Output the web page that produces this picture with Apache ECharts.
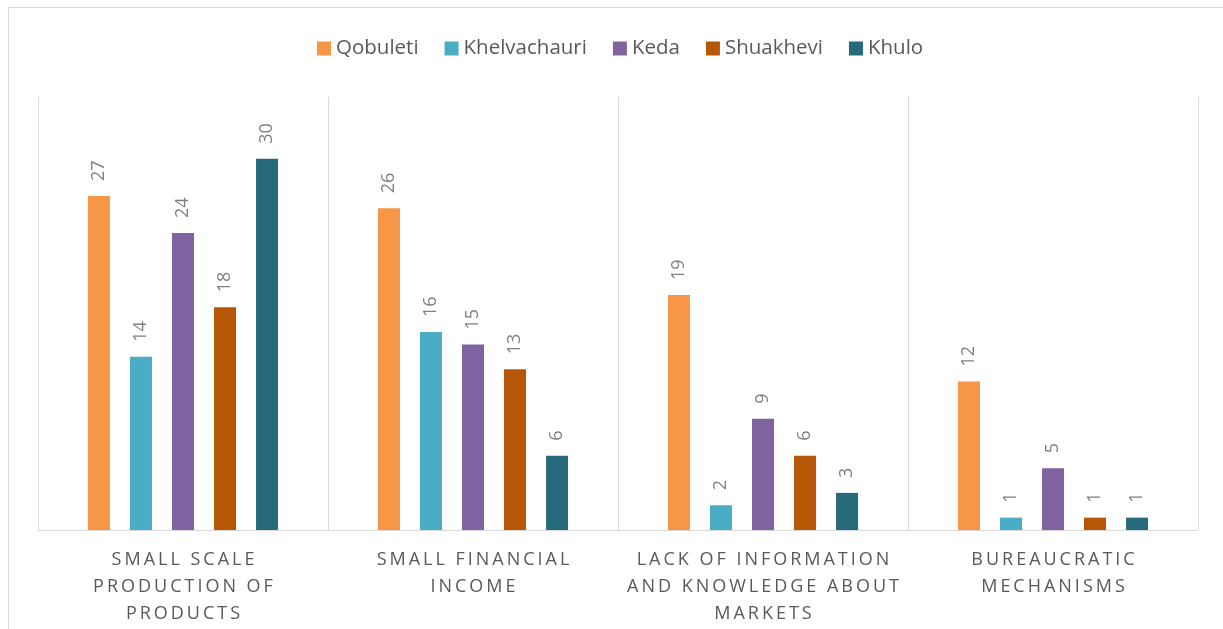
<!DOCTYPE html>
<html><head><meta charset="utf-8">
<script src="https://cdn.jsdelivr.net/npm/echarts@6/dist/echarts.min.js"></script>
<style>html,body{margin:0;padding:0;background:#fff}#c{width:1223px;height:629px}</style>
</head><body><div id="c"></div>
<script>
const categories = [
  "SMALL SCALE\nPRODUCTION OF\nPRODUCTS",
  "SMALL FINANCIAL\nINCOME",
  "LACK OF INFORMATION\nAND KNOWLEDGE ABOUT\nMARKETS",
  "BUREAUCRATIC\nMECHANISMS"
];
const seriesNames = ["Qobuleti", "Khelvachauri", "Keda", "Shuakhevi", "Khulo"];
const qobuleti = [27, 26, 19, 12];
const khelvachauri = [14, 16, 2, 1];
const keda = [24, 15, 9, 5];
const shuakhevi = [18, 13, 6, 1];
const khulo = [30, 6, 3, 1];
const colors = ["#F79646", "#4BACC6", "#8064A2", "#B65708", "#276A7C"];

const values = [qobuleti, khelvachauri, keda, shuakhevi, khulo];
const spaced = s => s.split("\n").map(l => l.split("").join("\u2009")).join("\n");

const chart = echarts.init(document.getElementById("c"), null, {renderer: "canvas"});
chart.setOption({
  animation: false,
  textStyle: {fontFamily: "Open Sans"},
  graphic: [{
    type: "rect", shape: {x: 8.5, y: 7.5, width: 1300, height: 700},
    style: {fill: "none", stroke: "#d9d9d9", lineWidth: 1}, silent: true
  }],
  legend: {
    top: 33, left: 312, itemWidth: 14, itemHeight: 14, itemGap: 26,
    icon: "rect",
    textStyle: {fontSize: 20.5, color: "#595959", fontFamily: "Open Sans"},
    data: seriesNames
  },
  grid: {left: 38, right: 25, top: 97, bottom: 99, containLabel: false},
  xAxis: {
    type: "category", data: categories.map(spaced),
    axisLine: {lineStyle: {color: "#d9d9d9", width: 1}},
    axisTick: {show: false},
    splitLine: {show: true, lineStyle: {color: "#d9d9d9", width: 1}},
    axisLabel: {interval: 0, color: "#595959", fontSize: 18, lineHeight: 27, margin: 16, fontFamily: "Open Sans"}
  },
  yAxis: {type: "value", min: 0, max: 35, show: false, splitLine: {show: false}},
  series: seriesNames.map((n, i) => ({
    name: n, type: "bar", data: values[i], barWidth: 22, barGap: "91%",
    itemStyle: {color: colors[i]},
    label: {
      show: true, position: "top", rotate: 90, align: "left", verticalAlign: "middle",
      distance: 15, fontSize: 18, color: "#808080", fontFamily: "Open Sans"
    }
  }))
});
</script></body></html>
